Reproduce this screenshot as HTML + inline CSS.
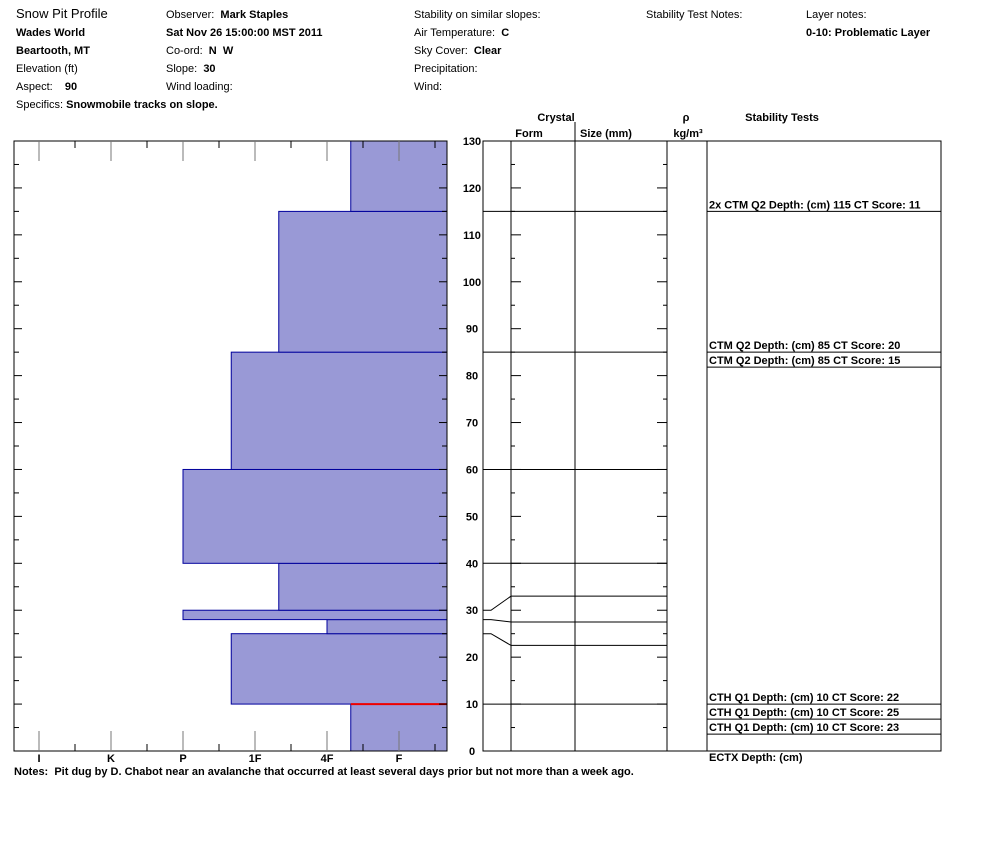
<!DOCTYPE html>
<html><head><meta charset="utf-8"><style>
body{margin:0;background:#fff;}
svg text{font-family:"Liberation Sans",sans-serif;font-size:11px;fill:#000;}
.b{font-weight:bold;}
</style></head><body>
<svg width="994" height="840" xmlns="http://www.w3.org/2000/svg">
<g>
<text x="16" y="18" style="font-size:13px">Snow Pit Profile</text>
<text x="16" y="36" class="b">Wades World</text>
<text x="16" y="54" class="b">Beartooth, MT</text>
<text x="16" y="72">Elevation (ft)</text>
<text x="16" y="90">Aspect:&#160;&#160;&#160;&#160;<tspan class="b">90</tspan></text>
<text x="16" y="108">Specifics: <tspan class="b">Snowmobile tracks on slope.</tspan></text>
<text x="166" y="18">Observer:&#160; <tspan class="b">Mark Staples</tspan></text>
<text x="166" y="36" class="b">Sat Nov 26 15:00:00 MST 2011</text>
<text x="166" y="54">Co-ord:&#160; <tspan class="b">N&#160; W</tspan></text>
<text x="166" y="72">Slope:&#160; <tspan class="b">30</tspan></text>
<text x="166" y="90">Wind loading:</text>
<text x="414" y="18">Stability on similar slopes:</text>
<text x="414" y="36">Air Temperature:&#160; <tspan class="b">C</tspan></text>
<text x="414" y="54">Sky Cover:&#160; <tspan class="b">Clear</tspan></text>
<text x="414" y="72">Precipitation:</text>
<text x="414" y="90">Wind:</text>
<text x="646" y="18">Stability Test Notes:</text>
<text x="806" y="18">Layer notes:</text>
<text x="806" y="36" class="b">0-10: Problematic Layer</text>
</g>
<g id="hard"></g>
<g id="cry"></g>
<text x="14" y="775" class="b">Notes:&#160; Pit dug by D. Chabot near an avalanche that occurred at least several days prior but not more than a week ago.</text>
</svg>
<script>
const layerTops=[10,25,28,30,40,60,85,115,130];
const layerBottoms=[0,10,25,28,30,40,60,85,115];
const layerHardness=[1.67,3.33,2,4,2.67,4,3.33,2.67,1.67];
const hardLabels=["I","K","P","1F","4F","F"];
const depthTicks=[0,10,20,30,40,50,60,70,80,90,100,110,120,130];
const crystalDisplay=[[10,10],[25,22.5],[28,27.5],[30,33],[40,40],[60,60],[85,85],[115,115]];
const tests=[["2x CTM Q2 Depth: (cm) 115 CT Score: 11",115,0],["CTM Q2 Depth: (cm) 85 CT Score: 20",85,0],["CTM Q2 Depth: (cm) 85 CT Score: 15",85,1],["CTH Q1 Depth: (cm) 10 CT Score: 22",10,0],["CTH Q1 Depth: (cm) 10 CT Score: 25",10,1],["CTH Q1 Depth: (cm) 10 CT Score: 23",10,2],["ECTX   Depth: (cm)",10,3]];
const NS="http://www.w3.org/2000/svg";
const X0=14,X1=447,Y0=141,Y1=751;
const y=d=>Y1-(Y1-Y0)*d/130;
const hx=h=>399-72*(h-1);
function el(p,t,a){const e=document.createElementNS(NS,t);for(const k in a)e.setAttribute(k,a[k]);p.appendChild(e);return e;}
const H=document.getElementById('hard');
el(H,'rect',{x:X0,y:Y0,width:X1-X0,height:Y1-Y0,fill:'#fff',stroke:'#000'});
layerTops.forEach((t,i)=>{const r=el(H,'rect',{x:hx(layerHardness[i]),y:y(t),width:X1-hx(layerHardness[i]),height:y(layerBottoms[i])-y(t),fill:'#9999d6',stroke:'#00009c','stroke-width':1});

});
el(H,'line',{x1:hx(layerHardness[0]),x2:X1,y1:y(10),y2:y(10),stroke:'#e00','stroke-width':2});
el(H,'rect',{x:X0,y:Y0,width:X1-X0,height:Y1-Y0,fill:'none',stroke:'#000'});
hardLabels.forEach((l,i)=>{const x=hx(6-i);
el(H,'line',{x1:x,x2:x,y1:Y1,y2:Y1-20,stroke:'#777'});
el(H,'line',{x1:x,x2:x,y1:Y0,y2:Y0+20,stroke:'#777'});
el(H,'line',{x1:x+36,x2:x+36,y1:Y1,y2:Y1-7,stroke:'#000'});
el(H,'line',{x1:x+36,x2:x+36,y1:Y0,y2:Y0+7,stroke:'#000'});
const t=el(H,'text',{x:x,y:762,'text-anchor':'middle',class:'b'});t.textContent=l;

});
for(let d=5;d<130;d+=5){const L=d%10?5:8;
el(H,'line',{x1:X0,x2:X0+L,y1:y(d),y2:y(d),stroke:'#000'});
el(H,'line',{x1:X1,x2:X1-L,y1:y(d),y2:y(d),stroke:'#000'});}
depthTicks.forEach(d=>{const t=el(H,'text',{x:472,y:y(d)+4,'text-anchor':'middle',class:'b'});t.textContent=d;

});
const C=document.getElementById('cry');
const CX=[483,511,575,667,707,941];
el(C,'rect',{x:483,y:Y0,width:458,height:Y1-Y0,fill:'none',stroke:'#000'});
CX.slice(1,5).forEach(x=>el(C,'line',{x1:x,x2:x,y1:Y0,y2:Y1,stroke:'#000'}));
el(C,'line',{x1:575,x2:575,y1:122,y2:Y0,stroke:'#000'});
for(let d=5;d<130;d+=5){const L=d%10?4:10;
el(C,'line',{x1:511,x2:511+L,y1:y(d),y2:y(d),stroke:'#000'});
el(C,'line',{x1:667,x2:667-L,y1:y(d),y2:y(d),stroke:'#000'});}
crystalDisplay.forEach(([a,b])=>{
el(C,'polyline',{points:`483,${y(a)} 491,${y(a)} 511,${y(b)} 667,${y(b)}`,fill:'none',stroke:'#000'});});
[[ "Crystal",556,121],["Form",529,137],["Size (mm)",606,137],["ρ",686,121],["kg/m³",688,137],["Stability Tests",782,121]].forEach(([s,x,yy])=>{const t=el(C,'text',{x:x,y:yy,'text-anchor':'middle',class:'b'});t.textContent=s;

});
tests.forEach(([s,d,k])=>{const ly=y(d)+15*k;
if(k<3)el(C,'line',{x1:707,x2:941,y1:ly,y2:ly,stroke:'#000'});
const t=el(C,'text',{x:709,y:(k===3?ly+12:ly-3),class:'b'});t.textContent=s;

});
</script>
</body></html>
